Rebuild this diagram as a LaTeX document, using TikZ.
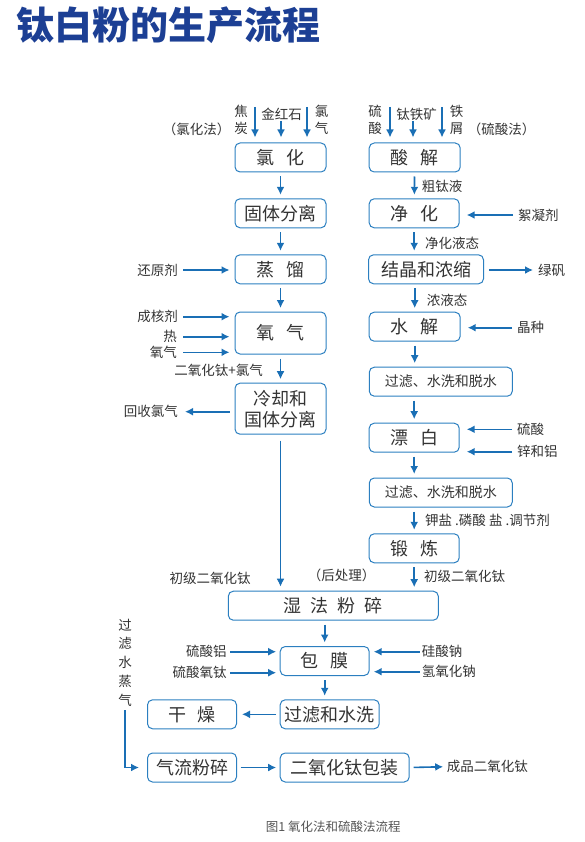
\documentclass[tikz,border=0pt]{standalone}
\usepackage{fontspec}
\setmainfont{Noto Sans CJK SC}
\usetikzlibrary{arrows.meta,calc}
\definecolor{boxblue}{HTML}{2B7FC0}
\definecolor{arrblue}{HTML}{1A6FB5}
\definecolor{txt}{HTML}{333333}
\definecolor{titleblue}{HTML}{1C3F94}
\definecolor{capgray}{HTML}{555555}
\tikzset{
  box/.style={draw=boxblue, line width=1pt, rounded corners=5pt, minimum height=29pt,
    text=txt, font=\fontsize{18}{21}\selectfont, inner sep=0pt, align=center},
  smallbox/.style={box, font=\fontsize{14}{16}\selectfont},
  lab/.style={text=txt, font=\fontsize{13.5}{17.5}\selectfont, inner sep=0pt, align=center},
  arr/.style={draw=arrblue, line width=1.6pt, -{Latex[length=8pt,width=8pt]}},
  varr/.style={arr, shorten <=4pt, shorten >=3.5pt},
  sarr/.style={arr, shorten <=5pt, shorten >=5pt},
  rarr/.style={arr, shorten <=5pt, shorten >=7pt},
}
\newcommand{\gp}{\hspace{0.65em}}
\begin{document}
\begin{tikzpicture}[x=1pt,y=-1pt]
\useasboundingbox (0,0) rectangle (584,842);
% title
\node[anchor=west, inner sep=0pt, text=titleblue, font=\fontsize{38}{40}\selectfont\bfseries] (title) at (16,25) {钛白粉的生产流程};

% left column (chlorination)
\node[box, minimum width=91pt] (A1) at (280.5,157.5) {氯\gp 化};
\node[box, minimum width=91pt] (A2) at (280.5,213.3) {固体分离};
\node[box, minimum width=91pt] (A3) at (280.5,269.3) {蒸\gp 馏};
\node[box, minimum width=91pt, minimum height=42pt] (A4) at (280.5,333) {氧\gp 气};
\node[box, minimum width=91pt, minimum height=51pt] (A5) at (280.5,408.7) {冷却和\\国体分离};

% right column (sulfate)
\node[box, minimum width=91pt] (B1) at (414.7,157.5) {酸\gp 解};
\node[box, minimum width=90pt] (B2) at (414.2,213.3) {净\gp 化};
\node[box, minimum width=115pt] (B3) at (426,269.3) {结晶和浓缩};
\node[box, minimum width=91pt] (B4) at (414.7,326.7) {水\gp 解};
\node[smallbox, minimum width=143pt] (B5) at (440.8,381.7) {过滤、水洗和脱水};
\node[box, minimum width=90pt] (B6) at (414.2,437.7) {漂\gp 白};
\node[smallbox, minimum width=143pt] (B7) at (440.8,492.5) {过滤、水洗和脱水};
\node[box, minimum width=90pt] (B8) at (414.2,548.3) {锻\gp 炼};

% post treatment
\node[box, minimum width=210pt] (C1) at (333.3,605.7) {湿\hspace{0.5em}法\hspace{0.5em}粉\hspace{0.5em}碎};
\node[box, minimum width=89pt] (C2) at (324.7,661) {包\gp 膜};
\node[box, minimum width=99pt] (C3) at (329.7,714.3) {过滤和水洗};
\node[box, minimum width=89pt] (C4) at (192,714.3) {干\gp 燥};
\node[box, minimum width=89pt] (C5) at (192,767.5) {气流粉碎};
\node[box, minimum width=129pt] (C6) at (344.7,767.5) {二氧化钛包装};

% top inputs, left
\node[lab] (m1) at (196.5,129) {（氯化法）};
\node[lab] (t1) at (241,120) {焦\\炭};
\node[lab] (t2) at (281.7,114) {金红石};
\node[lab] (t3) at (321.5,120) {氯\\气};
\coordinate (i1) at (255,107);
\coordinate (i2) at (281,121);
\coordinate (i3) at (307,107);
\draw[arr, shorten >=5pt] (i1) -- (i1 |- A1.north);
\draw[arr, shorten >=5pt] (i2) -- (i2 |- A1.north);
\draw[arr, shorten >=5pt] (i3) -- (i3 |- A1.north);

% top inputs, right
\node[lab] (m2) at (501.5,129) {（硫酸法）};
\node[lab] (u1) at (375,120) {硫\\酸};
\node[lab] (u2) at (416.7,114) {钛铁矿};
\node[lab] (u3) at (456.5,120) {铁\\屑};
\coordinate (j1) at (390,107);
\coordinate (j2) at (413,121);
\coordinate (j3) at (442,107);
\draw[arr, shorten >=5pt] (j1) -- (j1 |- B1.north);
\draw[arr, shorten >=5pt] (j2) -- (j2 |- B1.north);
\draw[arr, shorten >=5pt] (j3) -- (j3 |- B1.north);

% left column flow
\draw[varr] (A1) -- (A2);
\draw[varr] (A2) -- (A3);
\draw[varr] (A3) -- (A4);
\draw[varr] (A4) -- (A5);
\node[lab, anchor=east] (l5) at (263,370) {二氧化钛+氯气};
\node[lab, anchor=east] (l1) at (178,270) {还原剂};
\draw[sarr] (l1.east) -- (l1.east -| A3.west);
\node[lab, anchor=east] (l2) at (178,316.7) {成核剂};
\node[lab, anchor=east] (l3) at (177,336.7) {热};
\node[lab, anchor=east] (l4) at (177,352.3) {氧气};
\draw[sarr] (l2.east) -- (l2.east -| A4.west);
\draw[sarr] (l3.east) ++(1,0) coordinate (l3e) (l3e) -- (l3e -| A4.west);
\draw[sarr] (l4.east) ++(1,0) coordinate (l4e) (l4e) -- (l4e -| A4.west);
\node[lab, anchor=east] (l6) at (178,411.7) {回收氯气};
\draw[arr, shorten <=5pt, shorten >=7pt] (l6.east -| A5.west) -- (l6.east);
\draw[arr, shorten <=6pt, shorten >=4pt] (A5.south) -- (A5.south |- C1.north);
\node[lab] (l7) at (210,578.3) {初级二氧化钛};
\node[lab] (l8) at (341.5,575) {（后处理）};

% right column flow
\draw[varr] (B1) -- (B2);
\node[lab, anchor=west] (r1) at (421.7,186.7) {粗钛液};
\draw[varr] (B2.south) -- (B2.south |- B3.north);
\node[lab, anchor=west] (r2) at (425,243) {净化液态};
\draw[varr] (B4.north |- B3.south) -- (B4.north);
\node[lab, anchor=west] (r3) at (426.7,300) {浓液态};
\draw[varr] (B4.south) -- (B4.south |- B5.north);
\draw[varr] (B6.north |- B5.south) -- (B6.north);
\draw[varr] (B6.south) -- (B6.south |- B7.north);
\draw[varr] (B8.north |- B7.south) -- (B8.north);
\node[lab, anchor=west] (r4) at (425,520.7) {钾盐 .磷酸 盐 .调节剂};
\draw[varr] (B8.south) -- (B8.south |- C1.north);
\node[lab, anchor=west] (r5) at (424,576.7) {初级二氧化钛};

\node[lab, anchor=west] (s1) at (518,215) {絮凝剂};
\draw[rarr] (s1.west) -- (s1.west -| B2.east);
\node[lab, anchor=west] (s2) at (538,270) {绿矾};
\draw[sarr] (s2.west -| B3.east) -- (s2.west);
\node[lab, anchor=west] (s3) at (517,327.7) {晶种};
\draw[rarr] (s3.west) -- (s3.west -| B4.east);
\node[lab, anchor=west] (s4) at (517,429.3) {硫酸};
\draw[rarr] (s4.west) -- (s4.west -| B6.east);
\node[lab, anchor=west] (s5) at (517,451.7) {锌和铝};
\draw[rarr] (s5.west) -- (s5.west -| B6.east);

% post treatment flow
\draw[varr] (C2.north |- C1.south) -- (C2.north);
\draw[varr] (C2.south) -- (C2.south |- C3.north);
\node[lab, anchor=east] (p1) at (226.7,651.7) {硫酸铝};
\node[lab, anchor=east] (p2) at (226.7,672.7) {硫酸氧钛};
\draw[arr, shorten <=3.5pt, shorten >=3.5pt] (p1.east) -- (p1.east -| C2.west);
\draw[arr, shorten <=3.5pt, shorten >=3.5pt] (p2.east) -- (p2.east -| C2.west);
\node[lab, anchor=west] (q1) at (421.7,651.7) {硅酸钠};
\node[lab, anchor=west] (q2) at (421.7,671.7) {氢氧化钠};
\draw[arr, shorten <=2pt, shorten >=4pt] (q1.west) -- (q1.west -| C2.east);
\draw[arr, shorten <=2pt, shorten >=4pt] (q2.west) -- (q2.west -| C2.east);
\draw[arr, shorten <=3.5pt, shorten >=5pt] (C3.west) -- (C4.east);
\draw[arr, shorten <=3.5pt, shorten >=3.5pt] (C5.east) -- (C6.west);
\node[lab, anchor=west] (q3) at (446.7,766.7) {成品二氧化钛};
\draw[arr, shorten <=4pt, shorten >=3.5pt] (C6.east) -- (q3.west);

% steam
\node[lab, font=\fontsize{13.5}{18.7}\selectfont] (st) at (125,662.5) {过\\滤\\水\\蒸\\气};
\draw[draw=arrblue, line width=1.6pt, -{Latex[length=8pt,width=8pt]}, shorten <=4pt, shorten >=8pt] (st.south) |- (C5.west);

% caption
\node[inner sep=0pt, text=capgray, font=\fontsize{12.5}{14}\selectfont] (cap) at (333.3,826.5) {图1 氧化法和硫酸法流程};
\end{tikzpicture}
\end{document}
